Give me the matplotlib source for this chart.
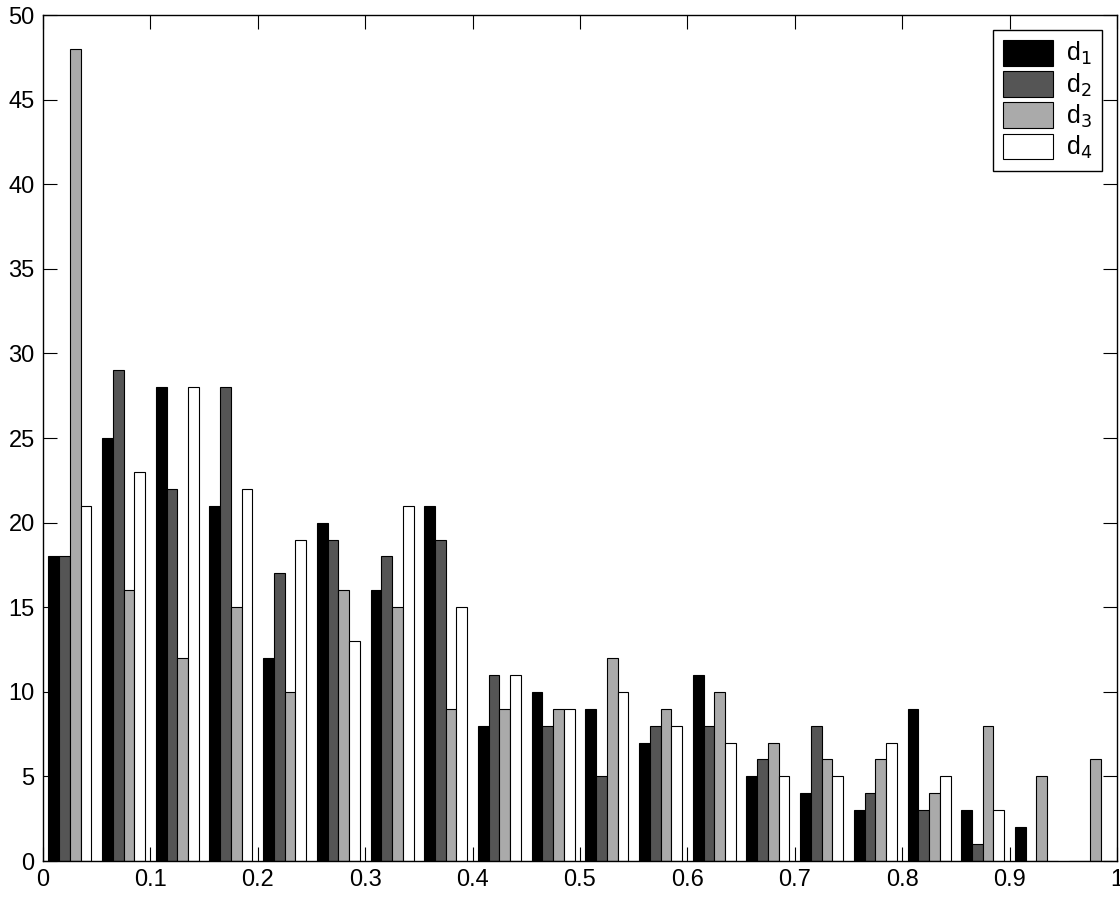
import matplotlib
matplotlib.use("Agg")
import matplotlib.pyplot as plt
import numpy as np

plt.rcParams["font.family"] = ["Liberation Sans", "DejaVu Sans"]

# histogram counts, 20 bins over [0, 1]
bin_centers = np.arange(20) * 0.05 + 0.025
d1 = [18, 25, 28, 21, 12, 20, 16, 21, 8, 10, 9, 7, 11, 5, 4, 3, 9, 3, 2, 0]
d2 = [18, 29, 22, 28, 17, 19, 18, 19, 11, 8, 5, 8, 8, 6, 8, 4, 3, 1, 0, 0]
d3 = [48, 16, 12, 15, 10, 16, 15, 9, 9, 9, 12, 9, 10, 7, 6, 6, 4, 8, 5, 6]
d4 = [21, 23, 28, 22, 19, 13, 21, 15, 11, 9, 10, 8, 7, 5, 5, 7, 5, 3, 0, 0]
series = [d1, d2, d3, d4]
labels = ["d$_1$", "d$_2$", "d$_3$", "d$_4$"]
colors = ["#000000", "#555555", "#aaaaaa", "#ffffff"]

fig = plt.figure(figsize=(11.2, 8.99), dpi=100)
ax = fig.add_axes([43 / 1120, 38 / 899, 1074 / 1120, 846 / 899])

bw = 0.01
for i, (vals, lab, col) in enumerate(zip(series, labels, colors)):
    ax.bar(bin_centers + (i - 1.5) * bw, vals, width=bw, color=col,
           edgecolor="black", linewidth=0.8, label=lab)

ax.set_xlim(0, 1)
ax.set_ylim(0, 50)
ax.set_xticks(np.arange(0, 1.01, 0.1))
ax.set_xticklabels(["0", "0.1", "0.2", "0.3", "0.4", "0.5", "0.6", "0.7", "0.8", "0.9", "1"])
ax.set_yticks(np.arange(0, 51, 5))
ax.tick_params(direction="in", top=True, right=True, labelsize=17, length=10, pad=6)
for s in ax.spines.values():
    s.set_linewidth(1)

leg = ax.legend(loc="upper right", fontsize=18, fancybox=False, framealpha=1,
                edgecolor="black", handlelength=2.0, handleheight=1.2,
                borderaxespad=0.6, labelspacing=0.15, borderpad=0.4,
                handletextpad=0.5)
leg.get_frame().set_linewidth(1)

fig.savefig("out.png", dpi=100)
